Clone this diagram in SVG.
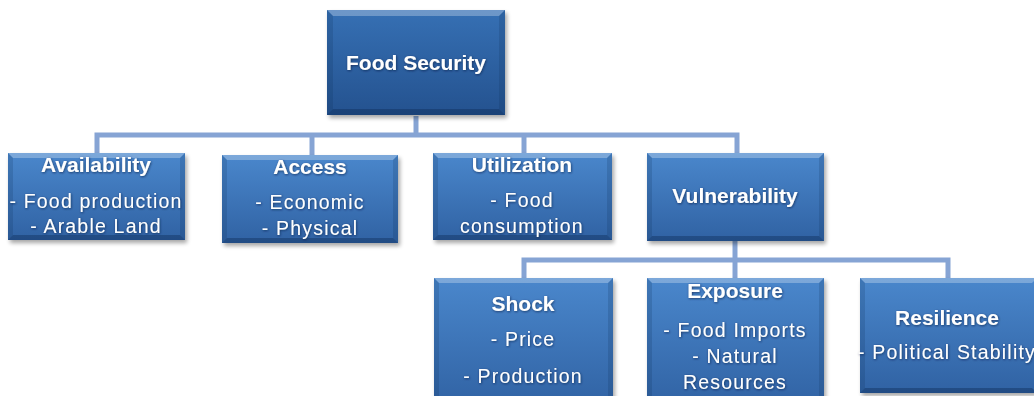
<svg xmlns="http://www.w3.org/2000/svg" width="1034" height="396" viewBox="0 0 1034 396">
<style>
  .bg{fill:#ffffff}
  .conn{fill:none;stroke:#86a4d4;stroke-width:5;stroke-linejoin:miter}
  .box{fill:url(#gBox)}
  .boxd{fill:url(#gTop)}
  .shadow{fill:#000;opacity:0.35;filter:url(#blur)}
  .bt{fill:#ffffff;opacity:0.28}
  .bb{fill:#0c2a55;opacity:0.40}
  .bs{fill:#0c2a55;opacity:0.18}
  text{font-family:"Liberation Sans",Arial,sans-serif;fill:#ffffff;text-anchor:middle;filter:url(#ts)}
  .h{font-weight:bold;font-size:21px}
  .t{font-size:19.5px;letter-spacing:1.2px}
</style>
<defs>
  <linearGradient id="gBox" x1="0" y1="0" x2="0" y2="1">
    <stop offset="0" stop-color="#4a87cc"/>
    <stop offset="1" stop-color="#3062a3"/>
  </linearGradient>
  <linearGradient id="gTop" x1="0" y1="0" x2="0" y2="1">
    <stop offset="0" stop-color="#3670b4"/>
    <stop offset="1" stop-color="#24528f"/>
  </linearGradient>
  <filter id="blur" x="-10%" y="-10%" width="120%" height="130%">
    <feGaussianBlur stdDeviation="2"/>
  </filter>
  <filter id="ts" x="-10%" y="-30%" width="120%" height="160%">
    <feDropShadow dx="0.6" dy="0.8" stdDeviation="0.8" flood-color="#0a1f40" flood-opacity="0.7"/>
  </filter>
</defs>
<rect class="bg" width="1034" height="396"/>

<g id="connectors">
  <path class="conn" d="M416,116 V135"/>
  <path class="conn" d="M97,153 V135 H737 V153"/>
  <path class="conn" d="M312,135 V155"/>
  <path class="conn" d="M524,135 V153"/>
  <path class="conn" d="M735,241 V260"/>
  <path class="conn" d="M524,278 V260 H948 V278"/>
  <path class="conn" d="M735,260 V278"/>
</g>

<g id="food-security">
  <rect class="shadow" x="329" y="13" width="178" height="105"/>
  <rect class="boxd" x="327" y="10" width="178" height="105"/>
  <path class="bt" d="M327,10 H505 L499,16 H333 Z"/>
  <path class="bb" d="M327,115 H505 L499,109 H333 Z"/>
  <path class="bs" d="M327,10 L333,16 V109 L327,115 Z M505,10 L499,16 V109 L505,115 Z"/>
  <text class="h" x="416" y="70">Food Security</text>
</g>

<g id="availability">
  <rect class="shadow" x="10" y="156" width="177" height="87"/>
  <rect class="box" x="8" y="153" width="177" height="87"/>
  <path class="bt" d="M8,153 H185 L180,158 H13 Z"/>
  <path class="bb" d="M8,240 H185 L180,235 H13 Z"/>
  <path class="bs" d="M8,153 L13,158 V235 L8,240 Z M185,153 L180,158 V235 L185,240 Z"/>
  <text class="h" x="96" y="172">Availability</text>
  <text class="t" x="96" y="208">- Food production</text>
  <text class="t" x="96" y="233">- Arable Land</text>
</g>

<g id="access">
  <rect class="shadow" x="224" y="158" width="176" height="88"/>
  <rect class="box" x="222" y="155" width="176" height="88"/>
  <path class="bt" d="M222,155 H398 L393,160 H227 Z"/>
  <path class="bb" d="M222,243 H398 L393,238 H227 Z"/>
  <path class="bs" d="M222,155 L227,160 V238 L222,243 Z M398,155 L393,160 V238 L398,243 Z"/>
  <text class="h" x="310" y="174">Access</text>
  <text class="t" x="310" y="209">- Economic</text>
  <text class="t" x="310" y="235">- Physical</text>
</g>

<g id="utilization">
  <rect class="shadow" x="435" y="156" width="179" height="87"/>
  <rect class="box" x="433" y="153" width="179" height="87"/>
  <path class="bt" d="M433,153 H612 L607,158 H438 Z"/>
  <path class="bb" d="M433,240 H612 L607,235 H438 Z"/>
  <path class="bs" d="M433,153 L438,158 V235 L433,240 Z M612,153 L607,158 V235 L612,240 Z"/>
  <text class="h" x="522" y="172">Utilization</text>
  <text class="t" x="522" y="207">- Food</text>
  <text class="t" x="522" y="233">consumption</text>
</g>

<g id="vulnerability">
  <rect class="shadow" x="649" y="156" width="177" height="88"/>
  <rect class="box" x="647" y="153" width="177" height="88"/>
  <path class="bt" d="M647,153 H824 L819,158 H652 Z"/>
  <path class="bb" d="M647,241 H824 L819,236 H652 Z"/>
  <path class="bs" d="M647,153 L652,158 V236 L647,241 Z M824,153 L819,158 V236 L824,241 Z"/>
  <text class="h" x="735" y="203">Vulnerability</text>
</g>

<g id="shock">
  <rect class="shadow" x="436" y="281" width="179" height="130"/>
  <rect class="box" x="434" y="278" width="179" height="130"/>
  <path class="bt" d="M434,278 H613 L608,283 H439 Z"/>
  <path class="bs" d="M434,278 L439,283 V408 L434,408 Z M613,278 L608,283 V408 L613,408 Z"/>
  <text class="h" x="523" y="311">Shock</text>
  <text class="t" x="523" y="346">- Price</text>
  <text class="t" x="523" y="383">- Production</text>
</g>

<g id="exposure">
  <rect class="shadow" x="649" y="281" width="177" height="130"/>
  <rect class="box" x="647" y="278" width="177" height="130"/>
  <path class="bt" d="M647,278 H824 L819,283 H652 Z"/>
  <path class="bs" d="M647,278 L652,283 V408 L647,408 Z M824,278 L819,283 V408 L824,408 Z"/>
  <text class="h" x="735" y="298">Exposure</text>
  <text class="t" x="735" y="337">- Food Imports</text>
  <text class="t" x="735" y="363">- Natural</text>
  <text class="t" x="735" y="389">Resources</text>
</g>

<g id="resilience">
  <rect class="shadow" x="862" y="281" width="177" height="115"/>
  <rect class="box" x="860" y="278" width="177" height="115"/>
  <path class="bt" d="M860,278 H1037 L1032,283 H865 Z"/>
  <path class="bb" d="M860,393 H1037 L1032,388 H865 Z"/>
  <path class="bs" d="M860,278 L865,283 V388 L860,393 Z"/>
  <text class="h" x="947" y="325">Resilience</text>
  <text class="t" x="947" y="359">- Political Stability</text>
</g>
</svg>
